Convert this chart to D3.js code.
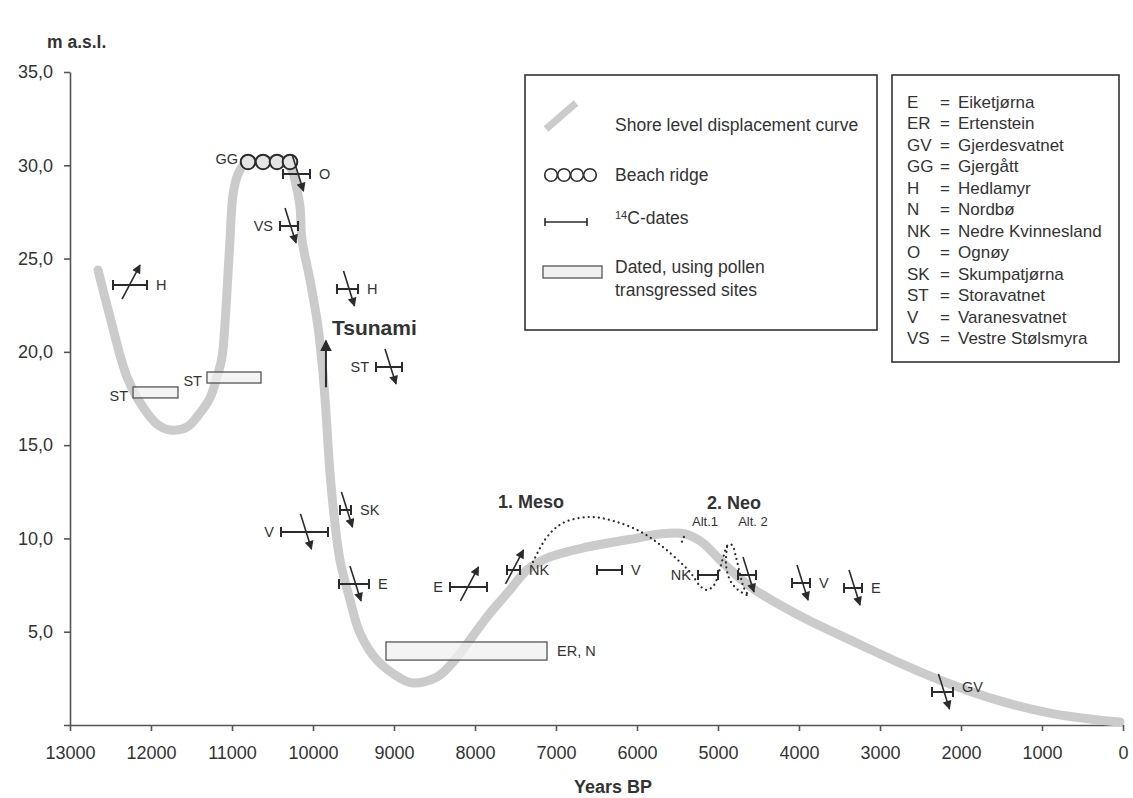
<!DOCTYPE html>
<html>
<head>
<meta charset="utf-8">
<script src="https://cdn.jsdelivr.net/npm/d3@7/dist/d3.min.js"></script>
<style>
  body { margin: 0; background: #fff; }
  text { font-family: "Liberation Sans", Arial, sans-serif; fill: #333; }
</style>
</head>
<body>
<div id="chart"></div>
<script>
// shore level displacement curve (years BP / m a.s.l.)
const curveYears = [12654, 12506, 12296, 12099, 11926, 11765, 11555, 11395, 11272, 11185, 11123, 11086, 11049, 11025,
  10988, 10926, 10839, 10654, 10469, 10309, 10247, 10197, 10160, 10136, 10037, 9938, 9877, 9839, 9796, 9747, 9667,
  9543, 9420, 9210, 8926, 8765, 8469, 8271, 8062, 7852, 7568, 7358, 7111, 6617, 6000, 5716, 5407, 5185, 4975, 4765,
  4543, 4234, 3864, 3370, 2753, 2136, 1519, 901, 407, 37];
const curveLevels = [24.39, 21.87, 18.65, 17.04, 16.13, 15.81, 15.97, 16.72, 17.53, 18.65, 19.72, 21.55, 24.23, 26.0,
  28.41, 29.53, 30.07, 30.23, 30.23, 30.02, 29.59, 28.68, 27.76, 26.0, 23.85, 21.33, 18.87, 16.72, 13.83, 11.52, 8.84,
  6.7, 4.93, 3.48, 2.52, 2.25, 2.57, 3.38, 4.56, 5.79, 7.24, 8.31, 8.95, 9.54, 10.02, 10.24, 10.24, 9.75, 8.84, 7.99,
  7.24, 6.43, 5.57, 4.56, 3.32, 2.2, 1.29, 0.64, 0.32, 0.16];

// 14C-dates
const dateSites = ['H', 'O', 'VS', 'H', 'ST', 'SK', 'V', 'E', 'E', 'NK', 'V', 'NK', '', 'V', 'E', 'GV'];
const dateFrom = [12469, 10370, 10407, 9704, 9222, 9667, 10395, 9679, 8309, 7605, 6494, 5247, 4753, 4086, 3444, 2358];
const dateTo = [12049, 10037, 10185, 9444, 8901, 9531, 9815, 9309, 7852, 7444, 6185, 5000, 4531, 3864, 3222, 2099];
const dateLevels = [23.58, 29.53, 26.75, 23.37, 19.19, 11.52, 10.34, 7.56, 7.4, 8.31, 8.31, 8.04, 8.04, 7.61, 7.34, 1.77];
const dateTrend = [1, -1, -1, -1, -1, -1, -1, -1, 1, 1, 0, 0, -1, -1, -1, -1]; // 1 transgression, -1 regression
const dateLabelSide = ['right', 'right', 'left', 'right', 'left', 'right', 'left', 'right', 'left', 'right', 'right', 'left', 'right', 'right', 'right', 'right'];

// dated, using pollen (transgressed sites)
const pollenSites = ['ST', 'ST', 'ER, N'];
const pollenFrom = [12222, 11309, 9099];
const pollenTo = [11667, 10642, 7111];
const pollenTop = [18.12, 18.92, 4.45];
const pollenBottom = [17.53, 18.33, 3.48];

// beach ridge (GG)
const ridgeYears = [10802, 10617, 10444, 10284];
const ridgeLevel = 30.18;

// transgression alternatives (dotted)
const mesoPath = [[7284, 8.74], [7111, 10.08], [6913, 10.83], [6580, 11.15], [6247, 10.88], [5926, 10.29], [5679, 9.54],
  [5470, 8.74], [5370, 8.31], [5309, 7.99], [5222, 7.45], [5136, 7.24], [5049, 7.5], [4988, 8.2], [4938, 8.95],
  [4877, 9.65], [4827, 9.65], [4778, 9.0], [4728, 8.09], [4679, 7.34], [4617, 6.91]];
const neoPath = [[4889, 9.54], [4901, 8.58], [4852, 7.77], [4753, 7.24], [4617, 6.91]];
const alt1Tick = [[5420, 10.08], [5470, 9.59]];

// tsunami
const tsunamiYear = 9840;
const tsunamiLevels = [18.1, 20.6];

// annotations
const noteTexts = ['1. Meso', '2. Neo', 'Alt.1', 'Alt. 2'];
const noteYears = [7309, 4802, 5160, 4568];
const noteLevels = [11.95, 11.9, 10.93, 10.93];

const xTicks = [13000, 12000, 11000, 10000, 9000, 8000, 7000, 6000, 5000, 4000, 3000, 2000, 1000, 0];
const yTicks = [0, 5, 10, 15, 20, 25, 30, 35];

const legendItems = ['Shore level displacement curve', 'Beach ridge', 'C-dates', 'Dated, using pollen'];
const siteAbbr = ['E', 'ER', 'GV', 'GG', 'H', 'N', 'NK', 'O', 'SK', 'ST', 'V', 'VS'];
const siteNames = ['Eiketjørna', 'Ertenstein', 'Gjerdesvatnet', 'Gjergått', 'Hedlamyr', 'Nordbø', 'Nedre Kvinnesland',
  'Ognøy', 'Skumpatjørna', 'Storavatnet', 'Varanesvatnet', 'Vestre Stølsmyra'];

const width = 1133, height = 798;
const ink = '#2b2b2b';
const curveGrey = '#cbcbcb';

const xScale = d3.scaleLinear().domain([13000, 0]).range([70, 1123]);
const yScale = d3.scaleLinear().domain([0, 35]).range([725, 72]);

const svg = d3.select('#chart').append('svg')
  .attr('width', width)
  .attr('height', height);

const defs = svg.append('defs');
defs.append('marker')
  .attr('id', 'head')
  .attr('viewBox', '0 0 10 10')
  .attr('refX', 9).attr('refY', 5)
  .attr('markerWidth', 10).attr('markerHeight', 9)
  .attr('markerUnits', 'userSpaceOnUse')
  .attr('orient', 'auto')
  .append('path').attr('d', 'M0,0 L10,5 L0,10 z').attr('fill', ink);
defs.append('marker')
  .attr('id', 'bighead')
  .attr('viewBox', '0 0 10 10')
  .attr('refX', 9).attr('refY', 5)
  .attr('markerWidth', 12).attr('markerHeight', 12)
  .attr('markerUnits', 'userSpaceOnUse')
  .attr('orient', 'auto')
  .append('path').attr('d', 'M0,0 L10,5 L0,10 z').attr('fill', ink);

/* Axes */
const xAxis = d3.axisBottom(xScale).tickValues(xTicks).tickFormat(d3.format('d')).tickSize(6).tickSizeOuter(0);
const yAxis = d3.axisLeft(yScale).tickValues(yTicks)
  .tickFormat(d => d === 0 ? '' : d.toFixed(1).replace('.', ','))
  .tickSize(6).tickSizeOuter(0);

const gx = svg.append('g')
  .attr('transform', `translate(0, ${yScale(0)})`)
  .call(xAxis);
const gy = svg.append('g')
  .attr('transform', `translate(${xScale(13000)}, 0)`)
  .call(yAxis);
[gx, gy].forEach(g => {
  g.select('.domain').attr('stroke', '#555').attr('stroke-width', 1.6);
  g.selectAll('.tick line').attr('stroke', '#555').attr('stroke-width', 1.6);
  g.selectAll('.tick text').attr('font-size', 18).attr('fill', '#333')
    .style('font-family', '"Liberation Sans", Arial, sans-serif');
});
gx.selectAll('.tick text').attr('dy', '1.4em');
gy.selectAll('.tick text').attr('x', -17);

svg.append('text')
  .attr('x', 47).attr('y', 48)
  .attr('font-size', 17.5).attr('font-weight', 'bold')
  .text('m a.s.l.');
svg.append('text')
  .attr('x', 613).attr('y', 793)
  .attr('text-anchor', 'middle')
  .attr('font-size', 18).attr('font-weight', 'bold')
  .text('Years BP');

/* Shore level curve */
const line = d3.line()
  .x(d => xScale(d[0]))
  .y(d => yScale(d[1]))
  .curve(d3.curveCatmullRom.alpha(0.5));

svg.append('path')
  .attr('d', line(d3.zip(curveYears, curveLevels)))
  .attr('fill', 'none')
  .attr('stroke', curveGrey)
  .attr('stroke-width', 9)
  .attr('stroke-linecap', 'round')
  .attr('stroke-linejoin', 'round');

/* Dotted alternatives */
const dotted = svg.append('g')
  .attr('fill', 'none')
  .attr('stroke', ink)
  .attr('stroke-width', 2.2)
  .attr('stroke-linecap', 'round')
  .attr('stroke-dasharray', '0.1,5');
[mesoPath, neoPath, alt1Tick].forEach(p => {
  dotted.append('path').attr('d', line(p));
});

/* Pollen boxes */
const pollen = svg.append('g');
pollenSites.forEach((s, i) => {
  const x0 = xScale(pollenFrom[i]), x1 = xScale(pollenTo[i]);
  const y0 = yScale(pollenTop[i]), y1 = yScale(pollenBottom[i]);
  pollen.append('rect')
    .attr('x', x0).attr('y', y0)
    .attr('width', x1 - x0).attr('height', y1 - y0)
    .attr('fill', '#f0f0f0').attr('fill-opacity', 0.75)
    .attr('stroke', '#555').attr('stroke-width', 1.3);
  const left = i < 2;
  pollen.append('text')
    .attr('x', left ? x0 - 5 : x1 + 10)
    .attr('y', (y0 + y1) / 2 + (left ? 3 : 0))
    .attr('dy', '0.35em')
    .attr('text-anchor', left ? 'end' : 'start')
    .attr('font-size', 14.5)
    .text(s);
});

/* Beach ridge */
const ridge = svg.append('g');
ridge.selectAll('circle')
  .data(ridgeYears).enter()
  .append('circle')
  .attr('cx', d => xScale(d))
  .attr('cy', yScale(ridgeLevel))
  .attr('r', 7.3)
  .attr('fill', '#e4e4e4')
  .attr('stroke', ink)
  .attr('stroke-width', 2);
ridge.append('text')
  .attr('x', xScale(ridgeYears[0]) - 10)
  .attr('y', yScale(ridgeLevel) - 3)
  .attr('dy', '0.35em')
  .attr('text-anchor', 'end')
  .attr('font-size', 14.5)
  .text('GG');

/* 14C-dates */
const dates = svg.append('g');
dateSites.forEach((s, i) => {
  const x0 = xScale(dateFrom[i]), x1 = xScale(dateTo[i]);
  const y = yScale(dateLevels[i]);
  const cx = (x0 + x1) / 2;
  dates.append('path')
    .attr('d', `M${x0},${y - 5}V${y + 5}M${x0},${y}H${x1}M${x1},${y - 5}V${y + 5}`)
    .attr('fill', 'none').attr('stroke', ink).attr('stroke-width', 2);
  if (dateTrend[i] < 0) {
    dates.append('line')
      .attr('x1', cx - 4).attr('y1', y - 18)
      .attr('x2', cx + 7).attr('y2', y + 17)
      .attr('stroke', ink).attr('stroke-width', 1.6)
      .attr('marker-end', 'url(#head)');
  } else if (dateTrend[i] > 0) {
    dates.append('line')
      .attr('x1', cx - 8).attr('y1', y + 14)
      .attr('x2', cx + 10).attr('y2', y - 20)
      .attr('stroke', ink).attr('stroke-width', 1.6)
      .attr('marker-end', 'url(#head)');
  }
  if (s) {
    const right = dateLabelSide[i] === 'right';
    dates.append('text')
      .attr('x', right ? x1 + 9 : x0 - 7)
      .attr('y', y + (s === 'GV' ? -5 : 0))
      .attr('dy', '0.35em')
      .attr('text-anchor', right ? 'start' : 'end')
      .attr('font-size', 14.5)
      .text(s);
  }
});

/* Tsunami */
svg.append('line')
  .attr('x1', xScale(tsunamiYear)).attr('y1', yScale(tsunamiLevels[0]))
  .attr('x2', xScale(tsunamiYear)).attr('y2', yScale(tsunamiLevels[1]))
  .attr('stroke', ink).attr('stroke-width', 2)
  .attr('marker-end', 'url(#bighead)');
svg.append('text')
  .attr('x', xScale(tsunamiYear) + 6)
  .attr('y', yScale(21.3))
  .attr('dy', '0.35em')
  .attr('font-size', 21).attr('font-weight', 'bold')
  .text('Tsunami');

/* Meso / Neo notes */
noteTexts.forEach((t, i) => {
  svg.append('text')
    .attr('x', xScale(noteYears[i]))
    .attr('y', yScale(noteLevels[i]))
    .attr('dy', '0.35em')
    .attr('text-anchor', 'middle')
    .attr('font-size', i < 2 ? 18 : 13)
    .attr('font-weight', i < 2 ? 'bold' : 'normal')
    .text(t);
});

/* Legend: symbols */
const leg = svg.append('g');
leg.append('rect')
  .attr('x', 525).attr('y', 75).attr('width', 352).attr('height', 255)
  .attr('fill', '#fff').attr('stroke', '#333').attr('stroke-width', 1.6);
leg.append('line')
  .attr('x1', 546).attr('y1', 129).attr('x2', 576).attr('y2', 103)
  .attr('stroke', curveGrey).attr('stroke-width', 7);
[551, 564, 577, 590].forEach(cx => {
  leg.append('circle').attr('cx', cx).attr('cy', 175).attr('r', 6.3)
    .attr('fill', 'none').attr('stroke', ink).attr('stroke-width', 1.6);
});
leg.append('path')
  .attr('d', 'M545,218V226M545,222H587M587,218V226')
  .attr('fill', 'none').attr('stroke', ink).attr('stroke-width', 1.6);
leg.append('rect')
  .attr('x', 543).attr('y', 266).attr('width', 59).attr('height', 12)
  .attr('fill', '#f0f0f0').attr('stroke', '#555').attr('stroke-width', 1.3);
const legY = [125, 175, 222, 267];
legendItems.forEach((t, i) => {
  const txt = leg.append('text')
    .attr('x', 615).attr('y', legY[i]).attr('dy', '0.35em')
    .attr('font-size', 17.5);
  if (i === 2) {
    txt.append('tspan').attr('font-size', 11).attr('dy', '-0.3em').text('14');
    txt.append('tspan').attr('dy', '0.3em').text(t);
  } else {
    txt.text(t);
  }
});
leg.append('text')
  .attr('x', 615).attr('y', 290).attr('dy', '0.35em')
  .attr('font-size', 17.5)
  .text('transgressed sites');

/* Legend: site names */
const sites = svg.append('g');
sites.append('rect')
  .attr('x', 892).attr('y', 75).attr('width', 227).attr('height', 287)
  .attr('fill', '#fff').attr('stroke', '#333').attr('stroke-width', 1.6);
siteAbbr.forEach((a, i) => {
  const y = 102 + i * 21.5;
  sites.append('text').attr('x', 907).attr('y', y).attr('dy', '0.35em').attr('font-size', 17).text(a);
  sites.append('text').attr('x', 940).attr('y', y).attr('dy', '0.35em').attr('font-size', 17).text('=');
  sites.append('text').attr('x', 958).attr('y', y).attr('dy', '0.35em').attr('font-size', 17).text(siteNames[i]);
});
</script>
</body>
</html>
